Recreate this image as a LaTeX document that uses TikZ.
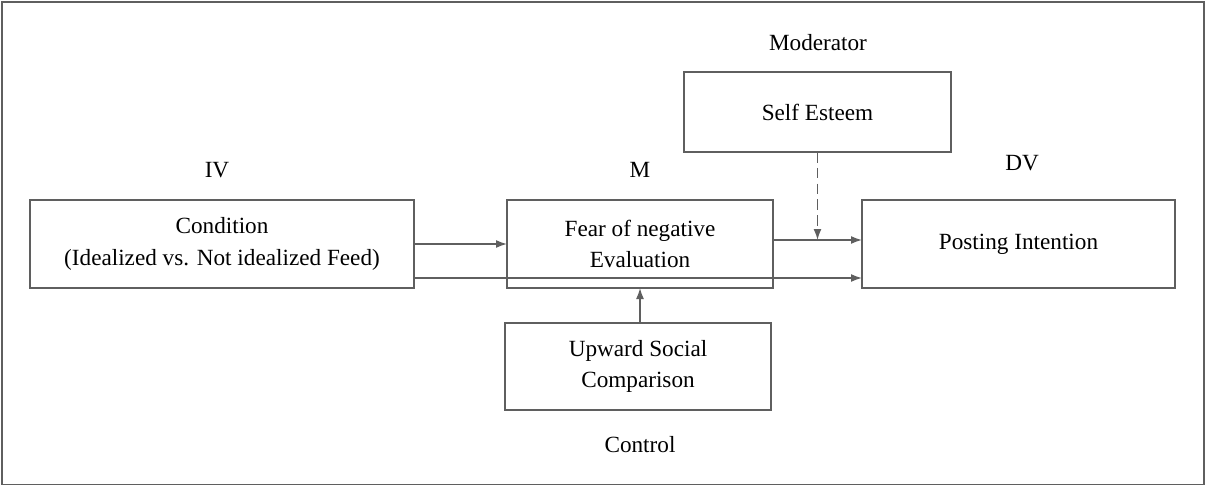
\documentclass[tikz,border=0pt]{standalone}
\usepackage{fontspec}
\setmainfont{Liberation Serif}
\usetikzlibrary{arrows.meta}
\definecolor{linegray}{RGB}{95,95,95}
\tikzset{
    varbox/.style={draw=linegray, line width=0.9pt, minimum height=1.76cm, align=center, inner sep=2pt, outer sep=0pt},
    arr/.style={-{Latex[length=2.2mm,width=1.6mm]}, draw=linegray, line width=0.9pt},
    dasharr/.style={arr, dash pattern=on 6pt off 3pt}
}
\begin{document}
\begin{tikzpicture}[font=\fontsize{13.2}{18}\selectfont]
        \useasboundingbox (0,0) rectangle (24.12,9.72);
        \draw[linegray, line width=1pt] (0.04,0.03) rectangle (24.08,9.68);
        % boxes
        \node[varbox, minimum width=7.68cm] (cond) at (4.44,4.84) {Condition\\(Idealized vs. Not idealized Feed)};
        \node[varbox, minimum width=5.32cm] (fear) at (12.8,4.84) {Fear of negative\\Evaluation};
        \node[varbox, minimum width=6.26cm] (post) at (20.37,4.84) {Posting Intention};
        \node[varbox, minimum width=5.34cm, minimum height=1.6cm] (self) at (16.35,7.48) {Self Esteem};
        \node[varbox, minimum width=5.32cm, minimum height=1.74cm] (upw) at (12.76,2.39) {Upward Social\\Comparison};
        % labels
        \node (iv) at (4.34,6.32) {IV};
        \node (m) at (12.8,6.32) {M};
        \node (dv) at (20.44,6.46) {DV};
        \node (mod) at (16.36,8.86) {Moderator};
        \node (ctrl) at (12.8,0.82) {Control};
        % paths
        \draw[arr] (cond.east) -- (fear.west);
        \draw[arr] ([yshift=-0.68cm]cond.east) -- ([yshift=-0.68cm]post.west);
        \coordinate (j) at ([yshift=0.08cm]post.west);
        \draw[arr] ([yshift=0.08cm]fear.east) -- (j);
        \draw[dasharr] (self.south) -- (self.south |- j);
        \draw[arr] (upw.north -| fear.south) -- (fear.south);
    \end{tikzpicture}
\end{document}
